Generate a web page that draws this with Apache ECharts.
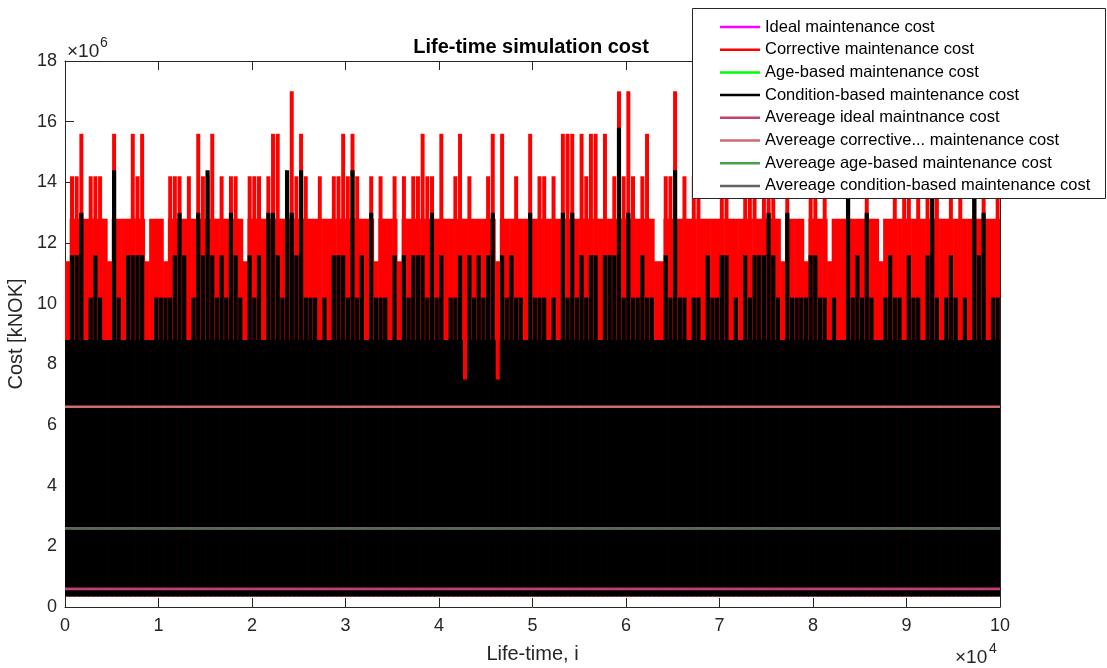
<!DOCTYPE html>
<html>
<head>
<meta charset="utf-8">
<script src="https://cdn.jsdelivr.net/npm/echarts@6/dist/echarts.min.js"></script>
<style>
html,body{margin:0;padding:0;background:#fff;}
#chart{width:1107px;height:668px;}
</style>
</head>
<body>
<div id="chart"></div>
<script>
// values in millions of kNOK, one level per bin of 500 life-time steps
var binWidth = 500;
var redLevels = [
 11.4,14.2,14.2,15.6,12.8,14.2,14.2,14.2,12.8,11.4,
 15.6,12.8,12.8,12.8,15.6,14.2,15.6,11.4,12.8,12.8,
 12.8,11.4,14.2,14.2,14.2,12.8,14.2,12.8,15.6,14.2,
 14.2,15.6,12.8,14.2,12.8,14.2,14.2,12.8,11.4,14.2,
 14.2,14.2,12.8,14.2,15.6,15.6,12.8,14.2,17.0,14.2,
 15.6,14.2,12.8,12.8,14.2,12.8,12.8,14.2,14.2,15.6,
 14.2,15.6,14.2,12.8,12.8,14.2,11.4,14.2,12.8,12.8,
 14.2,11.4,14.2,12.8,14.2,14.2,15.6,14.2,14.2,12.8,
 15.6,12.8,12.8,14.2,15.6,12.8,14.2,12.8,12.8,12.8,
 14.2,15.6,11.4,15.6,12.8,12.8,14.2,12.8,12.8,15.6,
 12.8,14.2,14.2,12.8,14.2,12.8,15.6,15.6,15.6,12.8,
 15.6,14.2,15.6,15.6,12.8,15.6,12.8,14.2,17.0,14.2,
 17.0,14.2,12.8,14.2,15.6,12.8,11.4,11.4,14.2,14.2,
 17.0,12.8,14.2,12.8,14.2,14.2,12.8,12.8,12.8,12.8,
 14.2,15.6,12.8,12.8,12.8,14.2,14.2,15.6,12.8,14.2,
 14.2,14.2,12.8,11.4,14.2,12.8,12.8,12.8,11.4,14.2,
 14.2,12.8,14.2,11.4,12.8,12.8,12.8,14.2,12.8,12.8,
 12.8,14.2,12.8,12.8,11.4,12.8,12.8,14.2,12.8,14.2,
 14.2,12.8,14.2,12.8,14.2,14.2,14.2,12.8,12.8,14.2,
 12.8,14.2,12.8,12.8,14.2,12.8,14.2,12.8,12.8,14.2
];
var condLevels = [
 8.8,11.6,11.6,13.0,8.8,10.2,11.6,10.2,8.8,8.8,
 14.4,10.2,8.8,11.6,11.6,11.6,11.6,8.8,8.8,10.2,
 10.2,10.2,10.2,11.6,13.0,11.6,8.8,10.2,13.0,11.6,
 14.4,11.6,10.2,11.6,10.2,13.0,11.6,10.2,8.8,11.6,
 10.2,11.6,8.8,13.0,13.0,11.6,10.2,14.4,13.0,11.6,
 14.4,10.2,10.2,10.2,8.8,10.2,8.8,11.6,11.6,11.6,
 10.2,14.4,10.2,11.6,8.8,13.0,10.2,10.2,10.2,8.8,
 11.6,8.8,11.6,10.2,11.6,11.6,11.6,10.2,13.0,10.2,
 11.6,8.8,10.2,10.2,11.6,7.5,11.6,10.2,11.6,10.2,
 11.6,13.0,7.5,11.6,10.2,11.6,10.2,10.2,8.8,13.0,
 10.2,10.2,10.2,8.8,10.2,8.8,13.0,10.2,13.0,10.2,
 11.6,10.2,11.6,11.6,8.8,11.6,11.6,11.6,15.8,10.2,
 13.0,10.2,10.2,11.6,10.2,10.2,8.8,8.8,11.6,10.2,
 14.4,10.2,10.2,8.8,10.2,10.2,8.8,11.6,10.2,10.2,
 11.6,11.6,8.8,10.2,8.8,11.6,10.2,11.6,11.6,11.6,
 13.0,11.6,10.2,8.8,13.0,10.2,10.2,10.2,10.2,11.6,
 11.6,10.2,10.2,8.8,10.2,8.8,8.8,14.4,10.2,11.6,
 10.2,13.0,10.2,8.8,8.8,10.2,11.6,10.2,10.2,8.8,
 11.6,10.2,10.2,8.8,11.6,14.4,10.2,8.8,10.2,11.6,
 10.2,8.8,10.2,8.8,14.4,11.6,13.0,8.8,10.2,10.2
];
var costFloor = 0.35;          // lowest cost seen in the black band
var redDense = 12.8;           // red is nearly solid up to here
var condDense = 8.8;           // black is nearly solid up to here
var idealLevel = 0.6;          // hidden below the black band
var ageLevel = 2.6;            // hidden below the black band
var avgNames = ['Avereage ideal maintnance cost','Avereage corrective... maintenance cost',
                'Avereage age-based maintenance cost','Avereage condition-based maintenance cost'];
var avgValues = [0.59, 6.6, 2.6, 2.6];
var avgColors = ['#c2426f','#cf6c6f','#45a048','#636363'];
var xTicks = [0,1,2,3,4,5,6,7,8,9,10];   // x 10^4
var yTicks = [0,2,4,6,8,10,12,14,16,18];  // x 10^6
var lastI = 100000;

function binData(levels){
  return levels.map(function(v,k){ return [k*binWidth, v]; });
}
function flat(v){ return [[0, v], [lastI, v]]; }

// each bin: solid block up to the dense level, thinner spike above it
function binRenderer(dense, spikeFrac, color){
  return function(params, api){
    var i0 = api.value(0), lvl = api.value(1);
    var p0 = api.coord([i0, costFloor]);
    var p1 = api.coord([i0 + binWidth, costFloor]);
    var w = p1[0] - p0[0];
    var capY = api.coord([i0, Math.min(lvl, dense)])[1];
    var kids = [{type:'rect', shape:{x:p0[0], y:capY, width:w + 0.6, height:p0[1] - capY}, style:{fill:color}}];
    if (lvl > dense) {
      var topY = api.coord([i0, lvl])[1];
      kids.push({type:'rect', shape:{x:p0[0] + w*(1 - spikeFrac)/2, y:topY, width:w*spikeFrac, height:capY - topY + 1},
        style:{fill:color}});
    }
    return {type:'group', children:kids};
  };
}

var font = 'Liberation Sans, Arial, sans-serif';
var ink = '#262626';

var series = [
  {name:'Ideal maintenance cost', type:'line', data:flat(idealLevel), showSymbol:false,
   lineStyle:{color:'#ff00ff', width:2}, itemStyle:{color:'#ff00ff'}},
  {name:'Corrective maintenance cost', type:'custom', data:binData(redLevels), encode:{x:0, y:1},
   renderItem:binRenderer(redDense, 0.85, '#ff0000'), itemStyle:{color:'#ff0000'}, clip:true},
  {name:'Age-based maintenance cost', type:'line', data:flat(ageLevel), showSymbol:false,
   lineStyle:{color:'#00ff00', width:2}, itemStyle:{color:'#00ff00'}},
  {name:'Condition-based maintenance cost', type:'custom', data:binData(condLevels), encode:{x:0, y:1},
   renderItem:binRenderer(condDense, 0.9, '#000000'), itemStyle:{color:'#000000'}, clip:true}
];
avgNames.forEach(function(n,k){
  series.push({name:n, type:'line', data:flat(avgValues[k]), showSymbol:false,
    lineStyle:{color:avgColors[k], width:2.5}, itemStyle:{color:avgColors[k]}});
});

function axisBase(){
  return {
    type:'value',
    axisLine:{onZero:false, lineStyle:{color:ink}},
    axisTick:{inside:true, length:9, lineStyle:{color:ink}},
    splitLine:{show:false}
  };
}

var xMain = axisBase();
xMain.min = 0; xMain.max = lastI; xMain.interval = 10000;
xMain.name = 'Life-time, i'; xMain.nameLocation = 'middle'; xMain.nameGap = 37;
xMain.nameTextStyle = {fontFamily:font, fontSize:20, color:ink};
xMain.axisLabel = {fontFamily:font, fontSize:18, color:ink, margin:10,
  formatter:function(v){ return xTicks[Math.round(v/10000)]; }};
var xTop = axisBase();
xTop.position = 'top'; xTop.min = 0; xTop.max = lastI; xTop.interval = 10000;
xTop.axisLabel = {show:false};

var yMain = axisBase();
yMain.min = 0; yMain.max = 18; yMain.interval = 2;
yMain.name = 'Cost [kNOK]'; yMain.nameLocation = 'middle'; yMain.nameGap = 35;
yMain.nameTextStyle = {fontFamily:font, fontSize:20, color:ink};
yMain.axisLabel = {fontFamily:font, fontSize:18, color:ink, margin:8,
  formatter:function(v){ return yTicks[Math.round(v/2)]; }};
var yRight = axisBase();
yRight.position = 'right'; yRight.min = 0; yRight.max = 18; yRight.interval = 2;
yRight.axisLabel = {show:false};

var myChart = echarts.init(document.getElementById('chart'));
var option = {
  animation:false,
  backgroundColor:'#fff',
  title:{text:'Life-time simulation cost', left:526, top:32, textAlign:'center',
    textStyle:{fontFamily:font, fontSize:20, fontWeight:'bold', color:'#000'}},
  grid:{left:65, right:107, top:61, bottom:61, containLabel:false, outerBoundsMode:'none'},
  legend:{orient:'vertical', left:720, top:18, padding:0, itemWidth:40, itemHeight:2.5, itemGap:4.7,
    icon:'rect', z:11, textStyle:{fontFamily:font, fontSize:16.5, lineHeight:18, color:'#000'},
    data:series.map(function(s){ return s.name; })},
  graphic:[
    {type:'rect', z:10, shape:{x:692.5, y:8.5, width:413, height:190},
     style:{fill:'#fff', stroke:ink, lineWidth:1}},
    {type:'text', z:10, style:{text:'\u00d710', x:67, y:42, font:'19px '+font, fill:ink}},
    {type:'text', z:10, style:{text:'6', x:100, y:36, font:'14px '+font, fill:ink}},
    {type:'text', z:10, style:{text:'\u00d710', x:955, y:648, font:'19px '+font, fill:ink}},
    {type:'text', z:10, style:{text:'4', x:989, y:642, font:'14px '+font, fill:ink}}
  ],
  xAxis:[xMain, xTop],
  yAxis:[yMain, yRight],
  series:series
};
myChart.setOption(option);
</script>
</body>
</html>
